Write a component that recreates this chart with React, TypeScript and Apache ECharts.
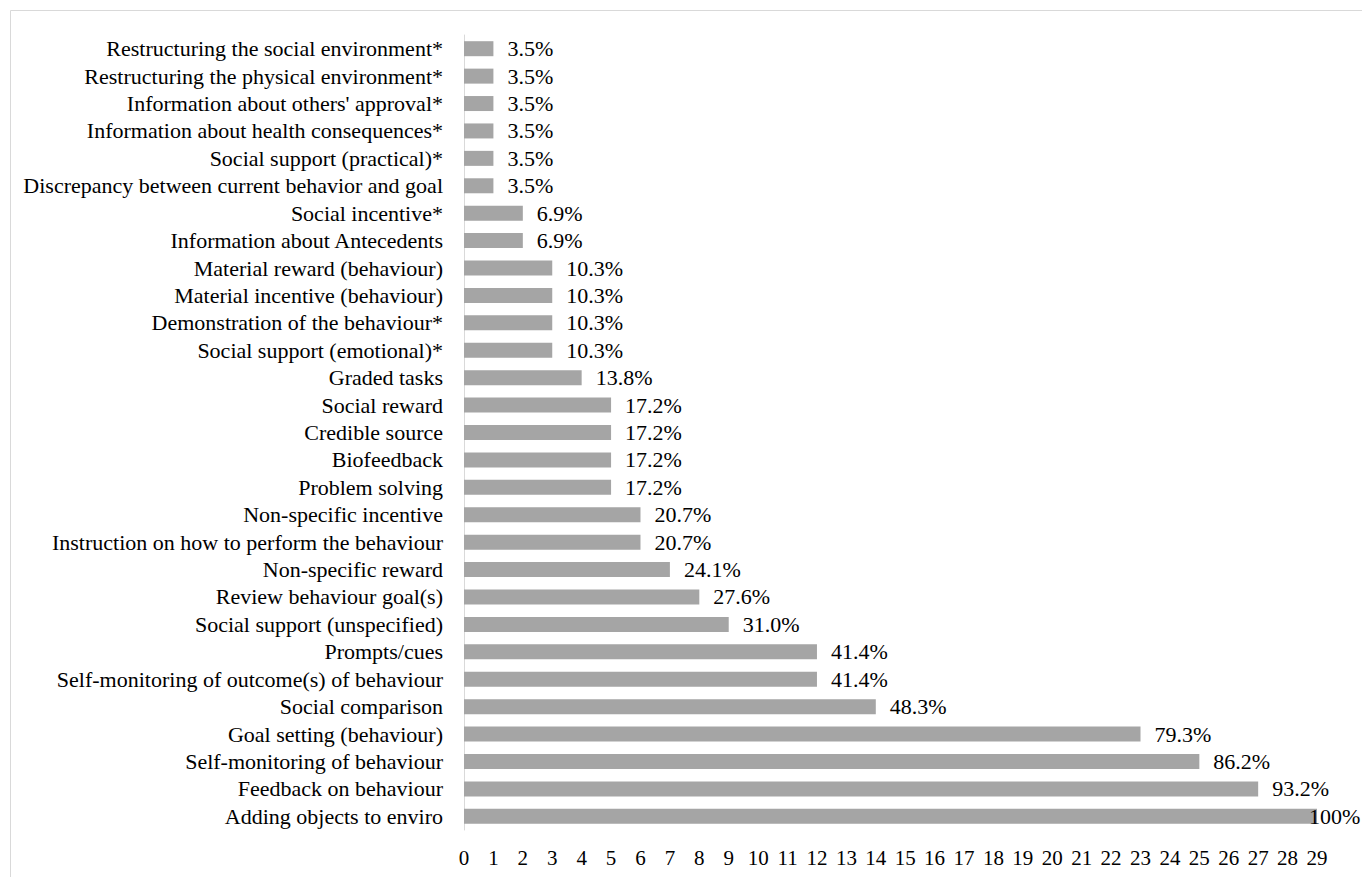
import React, { useEffect, useRef } from "react";
import * as echarts from "echarts";

const categories = [
  "Restructuring the social environment*",
  "Restructuring the physical environment*",
  "Information about others' approval*",
  "Information about health consequences*",
  "Social support (practical)*",
  "Discrepancy between current behavior and goal",
  "Social incentive*",
  "Information about Antecedents",
  "Material reward (behaviour)",
  "Material incentive (behaviour)",
  "Demonstration of the behaviour*",
  "Social support (emotional)*",
  "Graded tasks",
  "Social reward",
  "Credible source",
  "Biofeedback",
  "Problem solving",
  "Non-specific incentive",
  "Instruction on how to perform the behaviour",
  "Non-specific reward",
  "Review behaviour goal(s)",
  "Social support (unspecified)",
  "Prompts/cues",
  "Self-monitoring of outcome(s) of behaviour",
  "Social comparison",
  "Goal setting (behaviour)",
  "Self-monitoring of behaviour",
  "Feedback on behaviour",
  "Adding objects to enviro",
];

const counts = [1, 1, 1, 1, 1, 1, 2, 2, 3, 3, 3, 3, 4, 5, 5, 5, 5, 6, 6, 7, 8, 9, 12, 12, 14, 23, 25, 27, 29];

const percentLabels = [
  "3.5%", "3.5%", "3.5%", "3.5%", "3.5%", "3.5%",
  "6.9%", "6.9%",
  "10.3%", "10.3%", "10.3%", "10.3%",
  "13.8%",
  "17.2%", "17.2%", "17.2%", "17.2%",
  "20.7%", "20.7%",
  "24.1%", "27.6%", "31.0%",
  "41.4%", "41.4%", "48.3%",
  "79.3%", "86.2%", "93.2%", "100%",
];

const xTickMax = 29;

export default function App() {
  const ref = useRef<HTMLDivElement>(null);
  useEffect(() => {
    document.body.style.margin = "0";
    const chart = echarts.init(ref.current!, undefined, { renderer: "svg" });
    const font = "Times New Roman";
    const fs = 22;
    chart.setOption({
      animation: false,
      backgroundColor: "#ffffff",
      textStyle: { fontFamily: font },
      graphic: [
        {
          type: "rect",
          shape: { x: 10.5, y: 10.5, width: 1400, height: 900 },
          style: { fill: "none", stroke: "#d9d9d9", lineWidth: 1 },
          silent: true,
        },
      ],
      grid: { left: 464, right: 45, top: 35, bottom: 47, containLabel: false },
      xAxis: {
        type: "value",
        min: 0,
        max: xTickMax,
        interval: 1,
        axisLine: { show: false },
        axisTick: { show: false },
        splitLine: { show: false },
        axisLabel: { color: "#000", fontFamily: font, fontSize: 21, margin: 17 },
      },
      yAxis: {
        type: "category",
        inverse: true,
        data: categories,
        axisLine: { show: true, lineStyle: { color: "#d9d9d9", width: 1 } },
        axisTick: { show: false },
        axisLabel: { color: "#000", fontFamily: font, fontSize: fs, margin: 21, interval: 0 },
      },
      series: [
        {
          type: "bar",
          data: counts.map((v, i) =>
            i === counts.length - 1
              ? { value: v, label: { offset: [-22, 0] } }
              : v
          ),
          barWidth: 15,
          itemStyle: { color: "#a5a5a5" },
          label: {
            show: true,
            position: "right",
            distance: 14,
            color: "#000",
            fontFamily: font,
            fontSize: fs,
            formatter: (p: any) => percentLabels[p.dataIndex],
          },
        },
      ],
    });
    return () => chart.dispose();
  }, []);
  return <div ref={ref} style={{ width: 1362, height: 877 }} />;
}
